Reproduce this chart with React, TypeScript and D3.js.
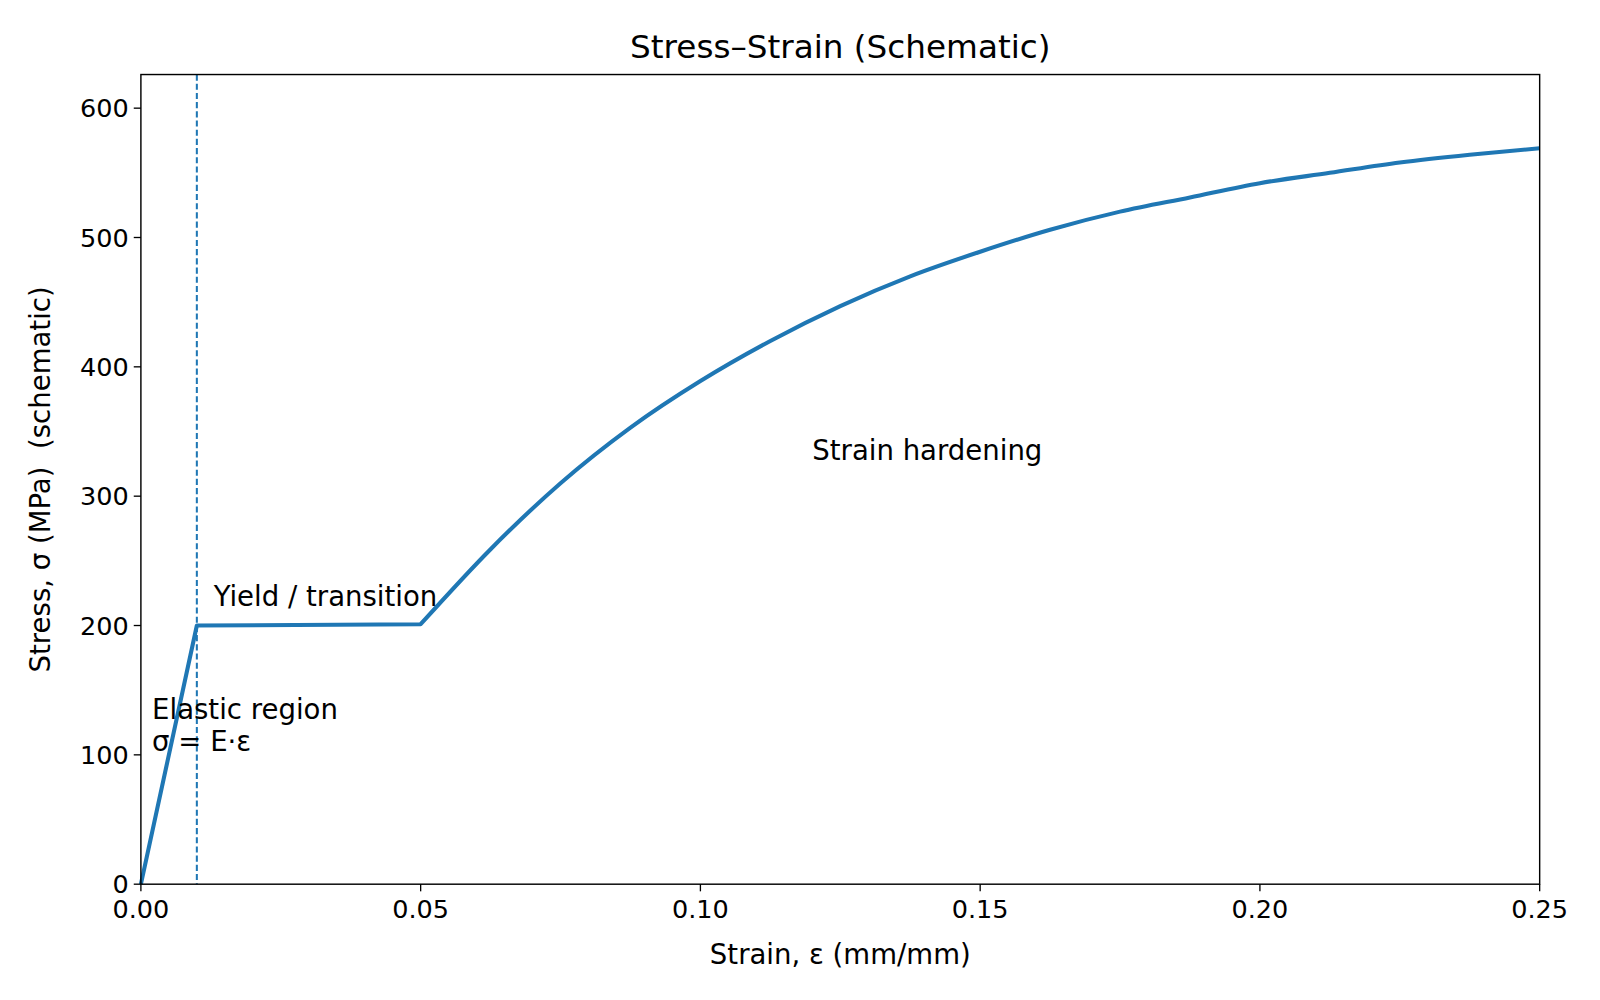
import React from "react";
import * as d3 from "d3";

const strain = [0, 0.01, 0.05, 0.0625, 0.075, 0.0875, 0.1, 0.1125, 0.125, 0.1375, 0.15, 0.1625, 0.175, 0.1875, 0.2, 0.2125, 0.225, 0.2375, 0.25];
const stress = [0, 200, 201, 259, 310, 353, 389, 420, 447, 470, 489, 506, 520, 531, 542, 550, 558, 564, 569];
const xTicks = [0, 0.05, 0.1, 0.15, 0.2, 0.25];
const yTicks = [0, 100, 200, 300, 400, 500, 600];
const yieldStrain = 0.01;

const BLUE = "#1f77b4";
const FONT = "DejaVu Sans, sans-serif";
const S = 1.021;

export default function App() {
  const left = 138, right = 1508, top = 73, bottom = 866;
  const x = d3.scaleLinear().domain([0, 0.25]).range([left, right]);
  const y = d3.scaleLinear().domain([0, 626]).range([bottom, top]);
  const pts = strain.map((s, i) => [s, stress[i]] as [number, number]);
  const elastic = d3.line<[number, number]>().x((d) => x(d[0])).y((d) => y(d[1]));
  const hard = d3.line<[number, number]>().x((d) => x(d[0])).y((d) => y(d[1])).curve(d3.curveMonotoneX);
  const path = elastic(pts.slice(0, 3))! + hard(pts.slice(2))!.replace(/^M/, "L");

  return (
    <svg width={1600} height={1000} style={{ position: "absolute", left: 0, top: 0, background: "#fff" }} fontFamily={FONT}>
      <g transform={`scale(${S})`}>
        <text x={(left + right) / 2} y={57} textAnchor="middle" fontSize={32}>Stress–Strain (Schematic)</text>
        <line x1={x(yieldStrain)} x2={x(yieldStrain)} y1={top} y2={bottom} stroke={BLUE} strokeWidth={2} strokeDasharray="6,3" />
        <path d={path} fill="none" stroke={BLUE} strokeWidth={4} strokeLinejoin="round" />
        <rect x={left} y={top} width={right - left} height={bottom - top} fill="none" stroke="#000" strokeWidth={1.4} />
        {xTicks.map((t) => (
          <g key={t}>
            <line x1={x(t)} x2={x(t)} y1={bottom} y2={bottom + 7} stroke="#000" strokeWidth={1.3} />
            <text x={x(t)} y={bottom + 33} textAnchor="middle" fontSize={25}>{t.toFixed(2)}</text>
          </g>
        ))}
        {yTicks.map((t) => (
          <g key={t}>
            <line x1={left - 7} x2={left} y1={y(t)} y2={y(t)} stroke="#000" strokeWidth={1.3} />
            <text x={left - 12} y={y(t) + 9} textAnchor="end" fontSize={25}>{t}</text>
          </g>
        ))}
        <text x={(left + right) / 2} y={944} textAnchor="middle" fontSize={27}>Strain, ε (mm/mm)</text>
        <text transform={`translate(49,${(top + bottom) / 2}) rotate(-90)`} textAnchor="middle" fontSize={27} style={{ whiteSpace: "pre" }}>Stress, σ (MPa)  (schematic)</text>
        <text x={x(0.002)} y={y(128)} fontSize={27}>Elastic region</text>
        <text x={x(0.002)} y={y(128) + 32} fontSize={27}>σ = E·ε</text>
        <text x={x(0.013)} y={y(215)} fontSize={27}>Yield / transition</text>
        <text x={x(0.12)} y={y(328)} fontSize={27}>Strain hardening</text>
      </g>
    </svg>
  );
}
